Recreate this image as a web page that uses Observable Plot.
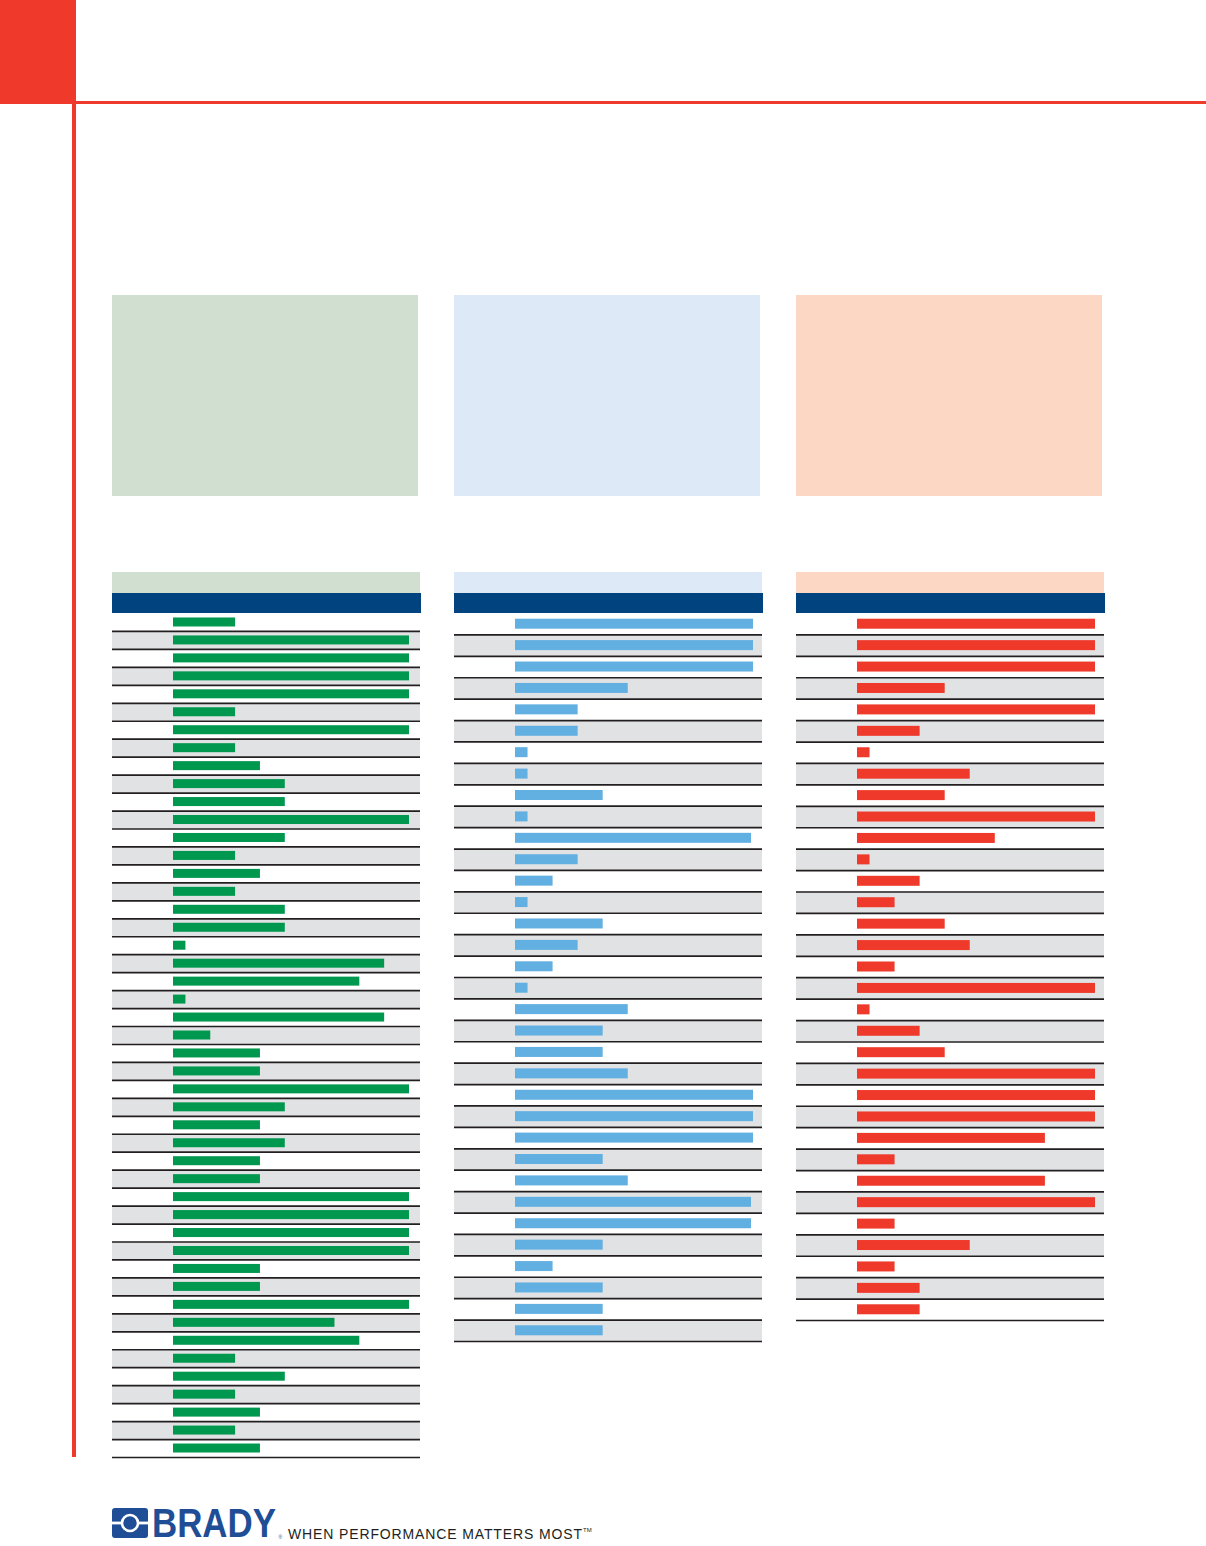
<!DOCTYPE html>
<html>
<head>
<meta charset="utf-8">
<script src="https://cdn.jsdelivr.net/npm/d3@7"></script>
<script src="https://cdn.jsdelivr.net/npm/@observablehq/plot@0.6"></script>
<style>
  html, body { margin: 0; padding: 0; background: #fff; }
  #page { position: relative; width: 1206px; height: 1546px; font-family: "Liberation Sans", Arial, sans-serif; }
  .abs { position: absolute; }
  .abs svg { display: block; }
</style>
</head>
<body>
<div id="page"></div>
<script>
// ---- Data: scores (1–10) read from each column, top to bottom ----
const greenScores = [3,10,10,10,10,3,10,3,4,5,5,10,5,3,4,3,5,5,1,9,8,1,9,2,4,4,10,5,4,5,4,4,10,10,10,10,4,4,10,7,8,3,5,3,4,3,4];
const blueScores  = [10,10,10,5,3,3,1,1,4,1,9.92,3,2,1,4,3,2,1,5,4,4,5,10,10,10,4,5,9.92,9.92,4,2,4,4,4];
const redScores   = [10,10,10,4,10,3,1,5,4,10,6,1,3,2,4,5,2,10,1,3,4,10,10,10,8,2,8,10,2,5,2,3,3];

const page = document.getElementById("page");
function box(left, top, width, height, color) {
  const d = document.createElement("div");
  d.className = "abs";
  Object.assign(d.style, {left: left + "px", top: top + "px", width: width + "px", height: height + "px", background: color});
  page.appendChild(d);
  return d;
}

// page frame decorations
const RED = "#ef3a2b";
box(0, 0, 76, 104.3, RED);
box(76, 100.7, 1130, 3.6, RED);
box(72, 104, 4, 1353, RED);

// panels
const panels = [
  {left: 112, scores: greenScores, soft: "#d1dfd1", bar: "#00974f", rowH: 844 / 47, barH: 9,  start: 61, full: 236},
  {left: 454, scores: blueScores,  soft: "#dde9f6", bar: "#62afe1", rowH: 728 / 34, barH: 10, start: 61, full: 238},
  {left: 796, scores: redScores,   soft: "#fcd8c4", bar: "#ef3a2b", rowH: 707 / 33, barH: 10, start: 61, full: 238}
];
const PW = 308;

for (const p of panels) {
  // intro box
  box(p.left, 295, 306, 201, p.soft);
  // table header bands
  box(p.left, 572, PW, 20.5, p.soft);
  box(p.left, 592.5, PW + 0.7, 20.5, "#00437f");

  const n = p.scores.length;
  const H = n * p.rowH;
  const rows = p.scores.map((v, i) => ({i, v}));
  const unit = p.full / 9.5;            // score 0.5 → bar start, score 10 → full bar
  const xlo = 0.5 - p.start / unit;
  const xhi = 0.5 + (PW - p.start) / unit;
  const inset = (p.rowH - p.barH) / 2;

  const chart = Plot.plot({
    width: PW,
    height: H + 2,
    margin: 0,
    x: {domain: [xlo, xhi], range: [0, PW], axis: null},
    y: {domain: [0, n], range: [0, H], axis: null},
    style: {background: "transparent", overflow: "visible"},
    marks: [
      Plot.rect(rows.filter(d => d.i % 2 === 1), {x1: xlo, x2: xhi, y1: "i", y2: d => d.i + 1, fill: "#e1e2e4"}),
      Plot.rect(rows, {x1: 0.5, x2: "v", y1: "i", y2: d => d.i + 1, insetTop: inset, insetBottom: inset, fill: p.bar}),
      Plot.ruleY(d3.range(1, n + 1), {stroke: "#231f20", strokeWidth: 1.7})
    ]
  });
  const holder = document.createElement("div");
  holder.className = "abs";
  holder.style.left = p.left + "px";
  holder.style.top = "613px";
  holder.appendChild(chart);
  page.appendChild(holder);
}

// Brady logo + tagline
const logo = document.createElement("div");
logo.className = "abs";
logo.style.left = "0px";
logo.style.top = "1484px";
logo.innerHTML = `
<svg width="700" height="62" xmlns="http://www.w3.org/2000/svg">
  <rect x="112" y="24" width="36" height="30" rx="3" fill="#1f4e96"/>
  <rect x="112" y="37.6" width="36" height="2.8" fill="#fff"/>
  <circle cx="130" cy="39" r="8" fill="#1f4e96" stroke="#fff" stroke-width="2.6"/>
  <text transform="translate(152,53.3) scale(0.861,1)" font-family="Liberation Sans, Arial, sans-serif" font-weight="bold" font-size="40.5" fill="#1f4e96">BRADY</text>
  <text x="278.5" y="55" font-family="Liberation Sans, Arial, sans-serif" font-size="5" fill="#1f4e96">®</text>
  <text x="288" y="55" font-family="Liberation Sans, Arial, sans-serif" font-size="14" fill="#231f20" textLength="294" lengthAdjust="spacing">WHEN PERFORMANCE MATTERS MOST</text>
  <text x="583" y="48" font-family="Liberation Sans, Arial, sans-serif" font-size="6" fill="#231f20">TM</text>
</svg>`;
page.appendChild(logo);
</script>
</body>
</html>
